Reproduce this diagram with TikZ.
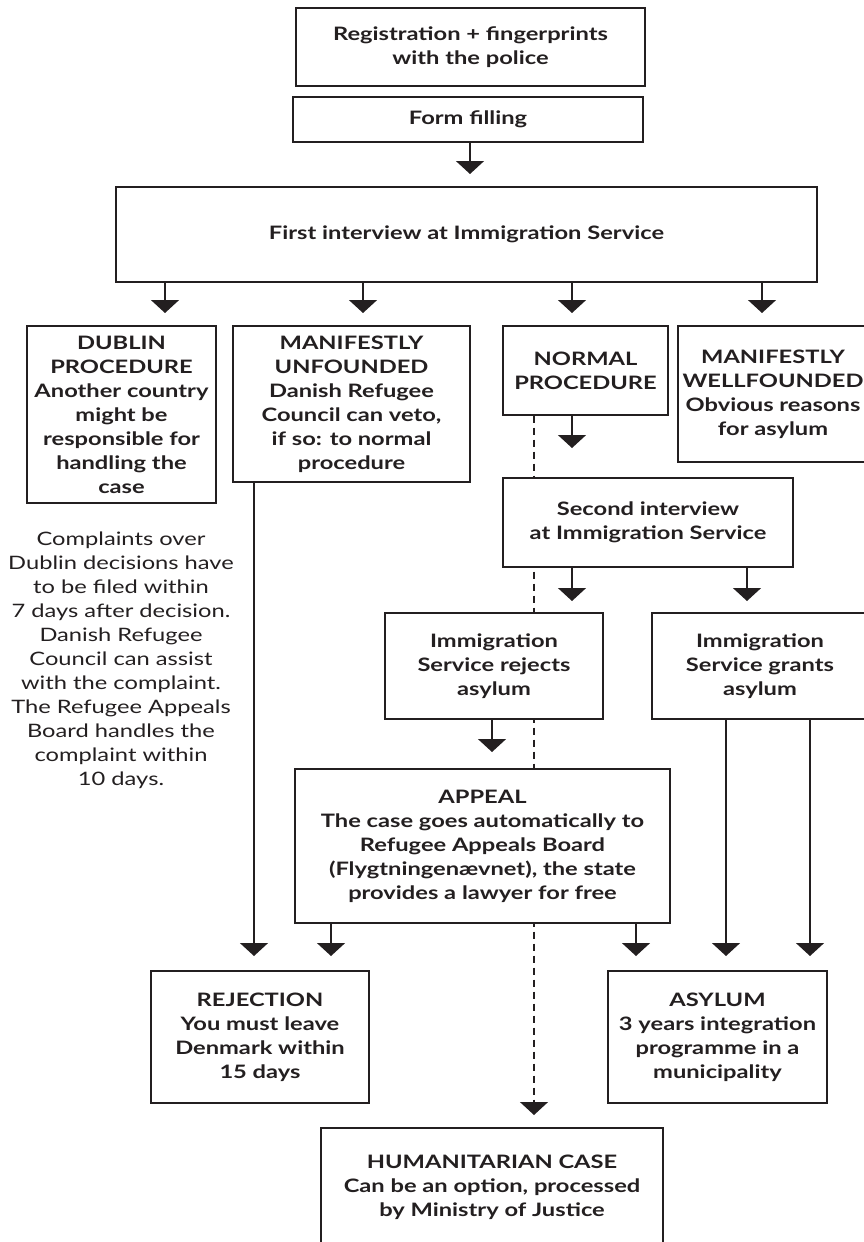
\documentclass[tikz,border=0pt]{standalone}
\usepackage{fontspec}
\setmainfont{Lato}[FakeStretch=1.28]
\usetikzlibrary{arrows.meta}
\pgfdeclarelayer{background}
\pgfsetlayers{background,main}
\definecolor{ink}{HTML}{231F20}
\tikzset{
  box/.style={draw=ink, fill=white, line width=1.4pt, align=center, inner sep=0pt, text=ink,
    font=\bfseries\fontsize{18.5}{24}\selectfont},
  note/.style={align=center, inner sep=0pt, text=ink, font=\fontsize{18.5}{24}\selectfont},
  arr/.style={draw=ink, line width=1.4pt, -{Triangle[width=28pt,length=13pt]}},
  dsh/.style={draw=ink, line width=1.2pt, dash pattern=on 7pt off 5pt, -{Triangle[width=28pt,length=13pt]}},
}
\begin{document}
\begin{tikzpicture}[x=1pt,y=-1pt]
\useasboundingbox (0,0) rectangle (864,1242);
\clip (0,0) rectangle (864,1242);

\node[box, minimum width=349pt, minimum height=78pt] (reg) at (470.5,47) {Registration + fingerprints\\with the police};
\node[box, minimum width=350pt, minimum height=45pt] (form) at (468,119.5) {Form filling};
\node[box, minimum width=701pt, minimum height=95pt] (first) at (466.5,234.5) {First interview at Immigration Service};
\node[box, minimum width=189pt, minimum height=177pt] (dublin) at (121.5,414.5) {DUBLIN\\PROCEDURE\\Another country\\might be\\responsible for\\handling the\\case};
\node[box, minimum width=237pt, minimum height=156pt] (unf) at (351.5,404) {MANIFESTLY\\UNFOUNDED\\Danish Refugee\\Council can veto,\\if so: to normal\\procedure};
\node[box, minimum width=165pt, minimum height=89pt] (normal) at (585.5,370.5) {NORMAL\\PROCEDURE};
\node[box, minimum width=190pt, minimum height=136pt] (well) at (773,394) {MANIFESTLY\\WELLFOUNDED\\Obvious reasons\\for asylum};
\node[box, minimum width=290pt, minimum height=89pt] (second) at (648,522.5) {Second interview\\at Immigration Service};
\node[box, minimum width=218pt, minimum height=106pt] (rejects) at (494,666) {Immigration\\Service rejects\\asylum};
\node[box, minimum width=216pt, minimum height=106pt] (grants) at (760,666) {Immigration\\Service grants\\asylum};
\node[box, minimum width=375pt, minimum height=154pt] (appeal) at (482.5,846) {APPEAL\\The case goes automatically to\\Refugee Appeals Board\\(Flygtningenævnet), the state\\provides a lawyer for free};
\node[box, minimum width=218pt, minimum height=132pt] (rejection) at (260,1037) {REJECTION\\You must leave\\Denmark within\\15 days};
\node[box, minimum width=219pt, minimum height=132pt] (asylum) at (717.5,1037) {ASYLUM\\3 years integration\\programme in a\\municipality};
\node[box, minimum width=342pt, minimum height=118pt] (hum) at (492,1187) {HUMANITARIAN CASE\\Can be an option, processed\\by Ministry of Justice};

\node[note] (notes) at (121,660) {Complaints over\\Dublin decisions have\\to be filed within\\7 days after decision.\\Danish Refugee\\Council can assist\\with the complaint.\\The Refugee Appeals\\Board handles the\\complaint within\\10 days.};

\coordinate (tf) at (470,174);
\coordinate (t1) at (165,313);
\coordinate (t2) at (363,313);
\coordinate (t3) at (572,313);
\coordinate (t4) at (762,313);
\coordinate (tn) at (572,448);
\coordinate (ts1) at (572,601);
\coordinate (ts2) at (747,601);
\coordinate (tr) at (492,752);
\coordinate (tu) at (254,956);
\coordinate (ta1) at (331,956);
\coordinate (ta2) at (636,956);
\coordinate (tg1) at (726,956);
\coordinate (tg2) at (810,956);
\coordinate (th) at (534,1115);

\draw[arr] (form.south -| tf) -- (tf);
\draw[arr] (first.south -| t1) -- (t1);
\draw[arr] (first.south -| t2) -- (t2);
\draw[arr] (first.south -| t3) -- (t3);
\draw[arr] (first.south -| t4) -- (t4);
\draw[arr] (normal.south -| tn) -- (tn);
\draw[arr] (second.south -| ts1) -- (ts1);
\draw[arr] (second.south -| ts2) -- (ts2);
\draw[arr] (rejects.south -| tr) -- (tr);
\draw[arr] (unf.south -| tu) -- (tu);
\draw[arr] (appeal.south -| ta1) -- (ta1);
\draw[arr] (appeal.south -| ta2) -- (ta2);
\draw[arr] (grants.south -| tg1) -- (tg1);
\draw[arr] (grants.south -| tg2) -- (tg2);
\begin{pgfonlayer}{background}
\draw[dsh] (normal.south -| th) -- (th);
\end{pgfonlayer}
\end{tikzpicture}
\end{document}
